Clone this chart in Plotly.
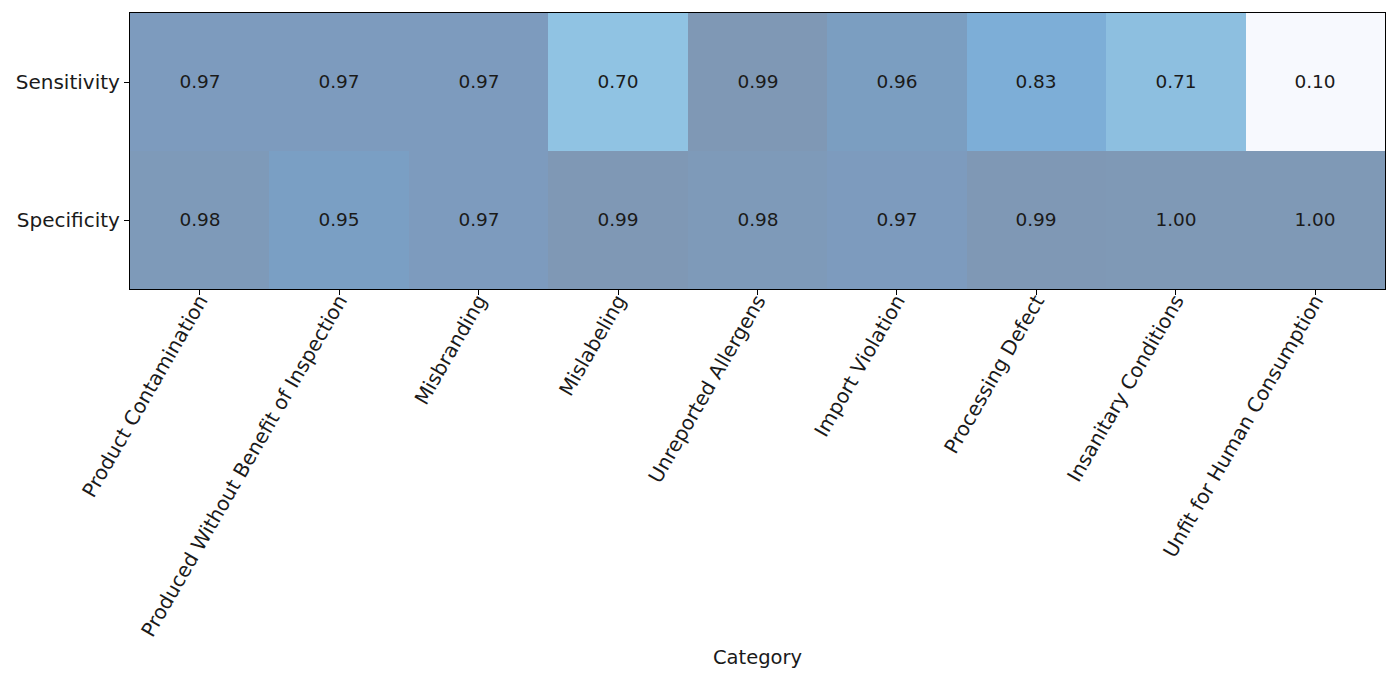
import plotly.graph_objects as go

categories = [
    "Product Contamination",
    "Produced Without Benefit of Inspection",
    "Misbranding",
    "Mislabeling",
    "Unreported Allergens",
    "Import Violation",
    "Processing Defect",
    "Insanitary Conditions",
    "Unfit for Human Consumption",
]
metrics = ["Sensitivity", "Specificity"]
sensitivity = [0.97, 0.97, 0.97, 0.70, 0.99, 0.96, 0.83, 0.71, 0.10]
specificity = [0.98, 0.95, 0.97, 0.99, 0.98, 0.97, 0.99, 1.00, 1.00]

z = [sensitivity, specificity]

colorscale = [
    [0.0, "#f7f9fe"],
    [0.667, "#90c3e3"],
    [0.678, "#8dbfe0"],
    [0.811, "#7daed7"],
    [0.944, "#7a9fc4"],
    [0.956, "#7b9ec1"],
    [0.967, "#7d9bbe"],
    [0.978, "#7e9ab9"],
    [0.989, "#7f98b5"],
    [1.0, "#7f99b6"],
]

fig = go.Figure(
    go.Heatmap(
        z=z,
        x=categories,
        y=metrics,
        zmin=0.10,
        zmax=1.0,
        colorscale=colorscale,
        showscale=False,
        texttemplate="%{z:.2f}",
        textfont=dict(size=18.5, color="#1a1a1a", family="DejaVu Sans"),
        hoverinfo="skip",
    )
)

fig.update_layout(
    width=1400,
    height=680,
    margin=dict(l=130, r=15, t=13, b=391, autoexpand=False),
    paper_bgcolor="white",
    plot_bgcolor="white",
    font=dict(family="DejaVu Sans", size=20, color="#1a1a1a"),
)
fig.update_xaxes(
    type="category",
    automargin=False,
    tickangle=-60,
    ticks="outside",
    ticklen=5,
    tickcolor="black",
    showline=True,
    linecolor="black",
    linewidth=1.2,
    mirror=True,
    showgrid=False,
    tickfont=dict(size=20),
    ticklabelstandoff=-14,
    title=dict(text="Category", font=dict(size=19.5), standoff=10),
)
fig.update_yaxes(
    type="category",
    automargin=False,
    autorange="reversed",
    ticks="outside",
    ticklen=5,
    tickcolor="black",
    showline=True,
    linecolor="black",
    linewidth=1.2,
    mirror=True,
    showgrid=False,
    tickfont=dict(size=20),
)

fig.write_html("out.html")
